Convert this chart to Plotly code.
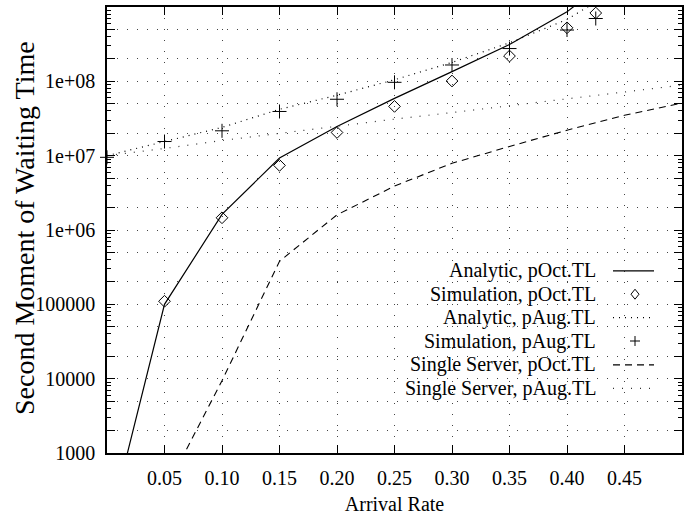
import plotly.graph_objects as go

# ---------------- data ----------------
x_analytic_oct = [0.01, 0.05, 0.10, 0.15, 0.20, 0.25, 0.30, 0.35, 0.40, 0.45]
y_analytic_oct = [330, 1.0e5, 1.62e6, 9.3e6, 2.47e7, 5.9e7, 1.35e8, 3.13e8, 8.6e8, 3.5e9]

x_sim_oct = [0.05, 0.10, 0.15, 0.20, 0.25, 0.30, 0.35, 0.40, 0.425]
y_sim_oct = [1.1e5, 1.46e6, 7.4e6, 2.05e7, 4.6e7, 1.01e8, 2.19e8, 5.25e8, 8.3e8]

x_analytic_aug = [0.0, 0.05, 0.10, 0.15, 0.20, 0.25, 0.30, 0.35, 0.40, 0.45]
y_analytic_aug = [1.0e7, 1.55e7, 2.4e7, 4.2e7, 6.5e7, 1.05e8, 1.8e8, 3.3e8, 6.8e8, 2.0e9]

x_sim_aug = [0.0, 0.05, 0.10, 0.15, 0.20, 0.25, 0.30, 0.35, 0.40, 0.425]
y_sim_aug = [9.5e6, 1.55e7, 2.16e7, 3.93e7, 5.74e7, 9.7e7, 1.66e8, 2.76e8, 4.9e8, 7.0e8]

x_single_oct = [0.05, 0.10, 0.15, 0.20, 0.25, 0.30, 0.35, 0.40, 0.45, 0.50]
y_single_oct = [300, 9.4e3, 3.8e5, 1.6e6, 3.9e6, 7.9e6, 1.33e7, 2.2e7, 3.5e7, 5.1e7]

x_single_aug = [0.0, 0.05, 0.10, 0.15, 0.20, 0.25, 0.30, 0.35, 0.40, 0.45, 0.50]
y_single_aug = [1.0e7, 1.25e7, 1.6e7, 2.0e7, 2.5e7, 3.1e7, 3.8e7, 4.7e7, 5.7e7, 7.1e7, 8.9e7]

series_names = ["Analytic, pOct.TL", "Simulation, pOct.TL", "Analytic, pAug.TL",
                "Simulation, pAug.TL", "Single Server, pOct.TL", "Single Server, pAug.TL"]

x_ticks = [0.05, 0.10, 0.15, 0.20, 0.25, 0.30, 0.35, 0.40, 0.45]
x_tick_text = ["0.05", "0.10", "0.15", "0.20", "0.25", "0.30", "0.35", "0.40", "0.45"]
y_decades = [1e3, 1e4, 1e5, 1e6, 1e7, 1e8]
y_decade_text = ["1000", "10000", "100000", "1e+06", "1e+07", "1e+08"]

x_title = "Arrival Rate"
y_title = "Second Moment of Waiting Time"

# ---------------- figure ----------------
FONT = "Liberation Serif"
W, H = 699, 525
ML, MR, MT, MB = 107, 17, 5, 72
PW, PH = W - ML - MR, H - MT - MB

fig = go.Figure()

fig.add_trace(go.Scatter(x=x_analytic_oct, y=y_analytic_oct, mode="lines",
                         name=series_names[0], line=dict(color="black", width=1.2)))
fig.add_trace(go.Scatter(x=x_sim_oct, y=y_sim_oct, mode="markers", name=series_names[1],
                         marker=dict(symbol="diamond-open", size=9, color="black",
                                     line=dict(width=1, color="black")), cliponaxis=False))
fig.add_trace(go.Scatter(x=x_analytic_aug, y=y_analytic_aug, mode="lines",
                         name=series_names[2],
                         line=dict(color="black", width=1.2, dash="1px,5px")))
fig.add_trace(go.Scatter(x=x_sim_aug, y=y_sim_aug, mode="markers", name=series_names[3],
                         marker=dict(symbol="cross-thin", size=10, color="black",
                                     line=dict(width=1, color="black")), cliponaxis=False))
fig.add_trace(go.Scatter(x=x_single_oct, y=y_single_oct, mode="lines",
                         name=series_names[4],
                         line=dict(color="black", width=1.1, dash="7px,5px")))
fig.add_trace(go.Scatter(x=x_single_aug, y=y_single_aug, mode="lines",
                         name=series_names[5],
                         line=dict(color="#333333", width=1.2, dash="1px,8px")))

# grid values on y (1, 2, 5 per decade)
y_grid = []
y_grid_text = []
for d, t in zip(y_decades, y_decade_text):
    for m in (1, 2, 5):
        y_grid.append(d * m)
        y_grid_text.append(t if m == 1 else "")

grid_style = dict(showgrid=True, gridcolor="#444444", gridwidth=1)

fig.update_xaxes(range=[0, 0.5], tickmode="array", tickvals=x_ticks, ticktext=x_tick_text,
                 ticks="inside", ticklen=8, tickwidth=1, tickcolor="black",
                 showline=True, linecolor="black", linewidth=1.5, mirror="ticks",
                 griddash="1px,10px", zeroline=False, ticklabelstandoff=6,
                 tickfont=dict(family=FONT, size=20, color="black"),
                 title=dict(text=x_title, font=dict(family=FONT, size=20, color="black"),
                            standoff=9),
                 **grid_style)
fig.update_yaxes(type="log", range=[3, 9], tickmode="array", tickvals=y_grid,
                 ticktext=y_grid_text, ticks="inside", ticklen=8, tickwidth=1,
                 tickcolor="black", showline=True, linecolor="black", linewidth=1.5,
                 mirror="ticks", griddash="1px,9px", zeroline=False, ticklabelstandoff=6,
                 minor=dict(dtick="D1", ticks="inside", ticklen=4, tickcolor="black",
                            showgrid=False),
                 tickfont=dict(family=FONT, size=20, color="black"),
                 **grid_style)

# y-axis title placed precisely as a rotated annotation
fig.add_annotation(x=(24 - ML) / PW, y=(H - MB - 227) / PH, xref="paper", yref="paper",
                   text=y_title, textangle=-90, showarrow=False,
                   xanchor="center", yanchor="middle",
                   font=dict(family=FONT, size=28, color="black"))

# ---------------- gnuplot-style key (text right, sample left) ----------------
def px_x(p):
    return (p - ML) / PW

def px_y(p):
    return (H - MB - p) / PH

row_py = [270, 293.5, 317, 340.5, 364.5, 388]
text_right = px_x(598)
s0, s1 = px_x(613), px_x(654)
mc = px_x(635)
shapes = []
for name, py in zip(series_names, row_py):
    fig.add_annotation(x=text_right, y=px_y(py), xref="paper", yref="paper",
                       text=name, showarrow=False, xanchor="right", yanchor="middle",
                       font=dict(family=FONT, size=20, color="black"))

# samples
shapes.append(dict(type="line", xref="paper", yref="paper", x0=s0, x1=s1,
                   y0=px_y(row_py[0]), y1=px_y(row_py[0]),
                   line=dict(color="black", width=1.2)))
dy = px_y(row_py[1])
hx, hy = 4 / PW, 5 / PH
shapes.append(dict(type="path", xref="paper", yref="paper",
                   path=f"M {mc - hx},{dy} L {mc},{dy + hy} L {mc + hx},{dy} L {mc},{dy - hy} Z",
                   line=dict(color="black", width=1)))
shapes.append(dict(type="line", xref="paper", yref="paper", x0=s0, x1=s1,
                   y0=px_y(row_py[2]), y1=px_y(row_py[2]),
                   line=dict(color="black", width=1.2, dash="1px,5px")))
py3 = px_y(row_py[3])
shapes.append(dict(type="line", xref="paper", yref="paper", x0=mc - 5 / PW, x1=mc + 5 / PW,
                   y0=py3, y1=py3, line=dict(color="black", width=1)))
shapes.append(dict(type="line", xref="paper", yref="paper", x0=mc, x1=mc,
                   y0=py3 - 5 / PH, y1=py3 + 5 / PH, line=dict(color="black", width=1)))
shapes.append(dict(type="line", xref="paper", yref="paper", x0=s0, x1=s1,
                   y0=px_y(row_py[4]), y1=px_y(row_py[4]),
                   line=dict(color="black", width=1.1, dash="7px,5px")))
shapes.append(dict(type="line", xref="paper", yref="paper", x0=s0, x1=s1,
                   y0=px_y(row_py[5]), y1=px_y(row_py[5]),
                   line=dict(color="#333333", width=1.2, dash="1px,8px")))

fig.update_layout(width=W, height=H, margin=dict(l=ML, r=MR, t=MT, b=MB),
                  paper_bgcolor="white", plot_bgcolor="white", showlegend=False,
                  shapes=shapes, font=dict(family=FONT, color="black"))

fig.write_html("out.html", config={"displayModeBar": False},
               post_script="document.body.style.margin='0px';document.body.style.padding='0px';")
